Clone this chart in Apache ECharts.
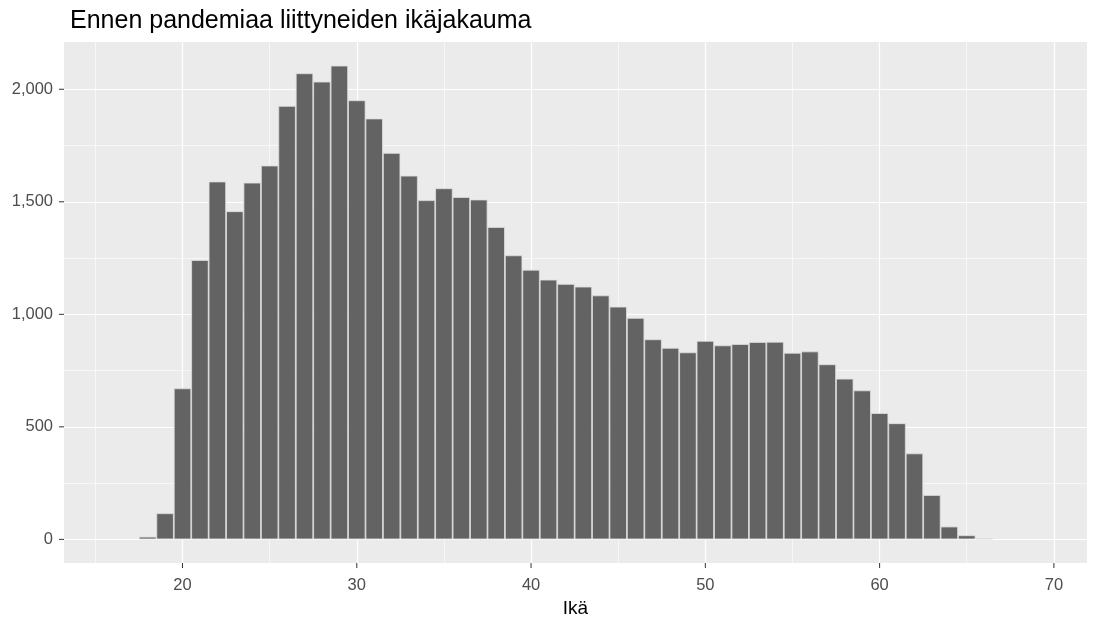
<!DOCTYPE html>
<html>
<head>
<meta charset="utf-8">
<script src="https://cdn.jsdelivr.net/npm/echarts@6/dist/echarts.min.js"></script>
<style>
  html, body { margin: 0; padding: 0; background: #fff; }
  #chart { width: 1100px; height: 618px; }
</style>
</head>
<body>
<div id="chart"></div>
<script>
// ages (1-year bins) and counts
const ages = [18, 19, 20, 21, 22, 23, 24, 25, 26, 27, 28, 29, 30, 31, 32, 33, 34, 35, 36, 37,
  38, 39, 40, 41, 42, 43, 44, 45, 46, 47, 48, 49, 50, 51, 52, 53, 54, 55, 56, 57,
  58, 59, 60, 61, 62, 63, 64, 65, 66]
const counts = [12, 116, 671, 1241, 1590, 1458, 1585, 1661, 1926, 2071, 2034, 2105, 1951, 1870, 1717, 1616, 1507, 1560, 1521, 1510,
  1388, 1262, 1198, 1154, 1135, 1123, 1084, 1034, 984, 889, 851, 831, 882, 862, 868, 877, 878, 829, 835, 778,
  714, 662, 561, 516, 382, 197, 57, 18, 4]

const xRange = [13.2, 71.9]
const yRange = [-105, 2210]
const xTicks = [20, 30, 40, 50, 60, 70]
const xMinor = [15, 25, 35, 45, 55, 65]
const yTicks = [0, 500, 1000, 1500, 2000]
const yMinor = [250, 750, 1250, 1750]

const font = '"Liberation Sans", Arial, sans-serif'

let chart = echarts.init(document.getElementById('chart'))

// panel grid lines drawn under the bars
let gridLines = []
xMinor.forEach(v => gridLines.push({ xAxis: v, lineStyle: { width: 0.6 } }))
yMinor.forEach(v => gridLines.push({ yAxis: v, lineStyle: { width: 0.6 } }))
xTicks.forEach(v => gridLines.push({ xAxis: v, lineStyle: { width: 1.2 } }))
yTicks.forEach(v => gridLines.push({ yAxis: v, lineStyle: { width: 1.2 } }))

chart.setOption({
  animation: false,
  title: {
    text: 'Ennen pandemiaa liittyneiden ikäjakauma',
    left: 65,
    top: 4,
    textStyle: { fontFamily: font, fontSize: 25, fontWeight: 'normal', color: '#000' }
  },
  grid: {
    left: 64,
    right: 13,
    top: 42,
    bottom: 55,
    outerBoundsMode: 'none',
    show: true,
    backgroundColor: '#EBEBEB',
    borderWidth: 0
  },
  xAxis: {
    type: 'value',
    min: xRange[0],
    max: xRange[1],
    name: 'Ikä',
    nameLocation: 'middle',
    nameGap: 32,
    nameTextStyle: { fontFamily: font, fontSize: 19, color: '#000' },
    axisLine: { show: false, onZero: false },
    axisTick: { show: false },
    axisLabel: { fontFamily: font, fontSize: 16.5, color: '#4D4D4D', margin: 14, customValues: xTicks },
    splitLine: { show: false }
  },
  yAxis: {
    type: 'value',
    min: yRange[0],
    max: yRange[1],
    axisLine: { show: false, onZero: false },
    axisTick: { show: false },
    axisLabel: {
      fontFamily: font, fontSize: 16.5, color: '#4D4D4D', margin: 11,
      customValues: yTicks,
      formatter: v => v.toLocaleString('en-US')
    },
    splitLine: { show: false }
  },
  series: [
    {
      type: 'bar',
      z: 10,
      barWidth: '100%',
      data: ages.map((a, i) => [a, counts[i]]),
      itemStyle: { color: '#636363', borderColor: '#dedede', borderWidth: 0.8 },
      markLine: {
        silent: true,
        symbol: 'none',
        label: { show: false },
        lineStyle: { color: '#ffffff', type: 'solid' },
        data: gridLines
      }
    }
  ]
})

// short tick marks outside the panel edges, placed through the axes' own scales
let tickEls = []
yTicks.forEach(v => {
    let p = chart.convertToPixel({ gridIndex: 0 }, [xRange[0], v])
    tickEls.push({
        type: 'line',
        silent: true,
        shape: { x1: p[0] - 5, y1: p[1], x2: p[0], y2: p[1] },
        style: { stroke: '#333333', lineWidth: 1 }
    })
})
xTicks.forEach(v => {
    let p = chart.convertToPixel({ gridIndex: 0 }, [v, yRange[0]])
    tickEls.push({
        type: 'line',
        silent: true,
        shape: { x1: p[0], y1: p[1], x2: p[0], y2: p[1] + 5 },
        style: { stroke: '#333333', lineWidth: 1 }
    })
})
chart.setOption({ graphic: tickEls })
</script>
</body>
</html>
